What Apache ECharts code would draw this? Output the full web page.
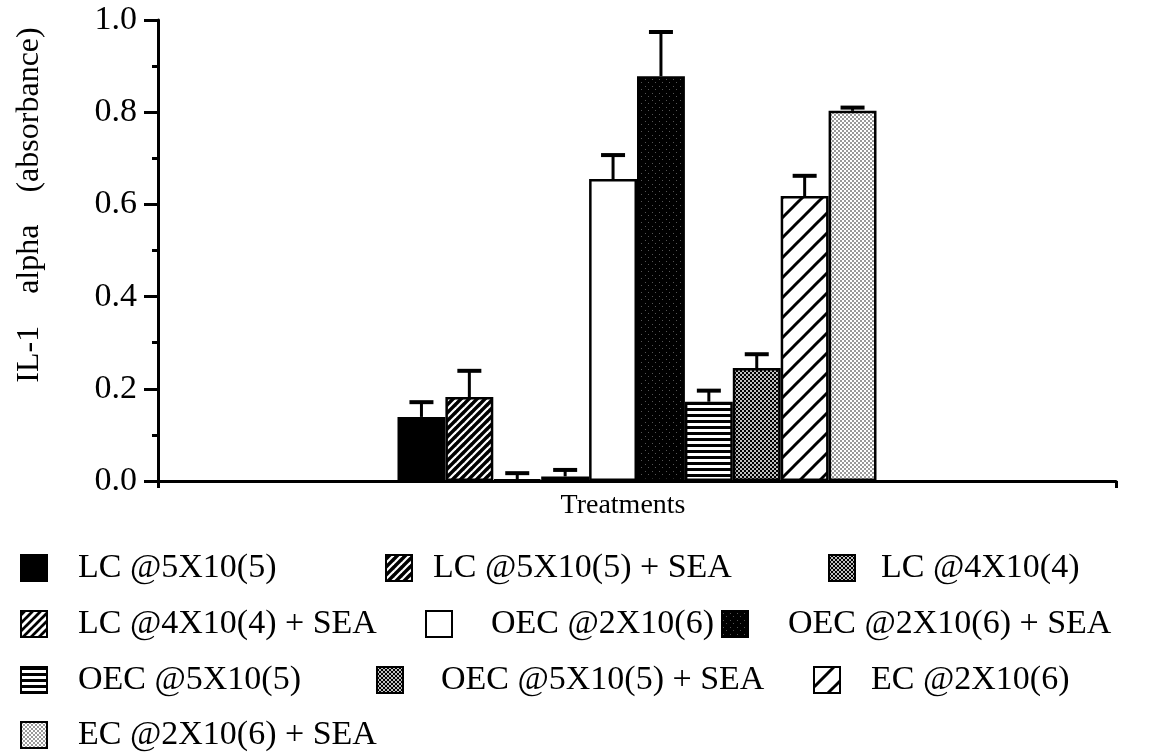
<!DOCTYPE html>
<html>
<head>
<meta charset="utf-8">
<script src="https://cdn.jsdelivr.net/npm/echarts@6/dist/echarts.min.js"></script>
<style>
  html, body { margin: 0; padding: 0; background: #fff; }
  #chart { width: 1155px; height: 753px; }
</style>
</head>
<body>
<div id="chart"></div>
<script>
// ---- data ----
var seriesNames = [
  'LC @5X10(5)', 'LC @5X10(5) + SEA', 'LC @4X10(4)', 'LC @4X10(4) + SEA',
  'OEC @2X10(6)', 'OEC @2X10(6) + SEA', 'OEC @5X10(5)', 'OEC @5X10(5) + SEA',
  'EC @2X10(6)', 'EC @2X10(6) + SEA'
];
var meanValues = [0.139, 0.182, 0.003, 0.010, 0.655, 0.878, 0.172, 0.245, 0.618, 0.803];
var errorValues = [0.032, 0.057, 0.014, 0.014, 0.052, 0.096, 0.024, 0.030, 0.044, 0.007];
var categories = ['Treatments'];
var yTicks = [0.0, 0.2, 0.4, 0.6, 0.8, 1.0];

// ---- patterns ----
function tile(w, h, draw) {
  var c = document.createElement('canvas');
  c.width = w; c.height = h;
  var ctx = c.getContext('2d');
  draw(ctx, w, h);
  return { image: c, repeat: 'repeat' };
}
function hatch(size, bg, fg, lw) {
  return tile(size, size, function (ctx, w, h) {
    ctx.fillStyle = bg; ctx.fillRect(0, 0, w, h);
    ctx.strokeStyle = fg; ctx.lineWidth = lw;
    [-w, 0, w].forEach(function (o) {
      ctx.beginPath();
      ctx.moveTo(o - 1, h + 1);
      ctx.lineTo(o + w + 1, -1);
      ctx.stroke();
    });
  });
}
function dots(size, bg, fg, r) {
  return tile(size, size, function (ctx, w, h) {
    ctx.fillStyle = bg; ctx.fillRect(0, 0, w, h);
    ctx.fillStyle = fg;
    [[w / 4, h / 4], [3 * w / 4, 3 * h / 4]].forEach(function (p) {
      ctx.beginPath(); ctx.arc(p[0], p[1], r, 0, Math.PI * 2); ctx.fill();
    });
  });
}
var stripes = tile(6, 6, function (ctx, w, h) {
  ctx.fillStyle = '#fff'; ctx.fillRect(0, 0, w, h);
  ctx.fillStyle = '#000'; ctx.fillRect(0, 0, w, 3);
});
var speckle = tile(7, 7, function (ctx, w, h) {
  ctx.fillStyle = '#000'; ctx.fillRect(0, 0, w, h);
  ctx.fillStyle = '#555'; ctx.fillRect(1, 2, 1, 1); ctx.fillRect(4, 5, 1, 1);
});
var fills = [
  '#000',
  hatch(8, '#000', '#fff', 2.2),
  dots(4, '#000', '#fff', 1.0),
  hatch(8, '#000', '#fff', 3),
  '#fff',
  speckle,
  stripes,
  dots(4, '#000', '#fff', 1.0),
  hatch(20, '#fff', '#000', 3),
  dots(4, '#fff', '#000', 0.75)
];

// legend layout: [iconLeft, rowCenterY, textPad]
var legendLayout = [
  [20, 568, 26], [385, 568, 16], [828, 568, 21],
  [20, 624, 26], [425, 624, 34], [721, 624, 35],
  [20, 680, 26], [376, 680, 33], [813, 680, 26],
  [20, 735, 26]
];

var FONT = "'Liberation Serif', 'Times New Roman', serif";
var N = seriesNames.length;
var CAT_GAP = 0.5;

var series = seriesNames.map(function (name, i) {
  return {
    name: name,
    type: 'bar',
    data: [meanValues[i]],
    barGap: '0%',
    barCategoryGap: (CAT_GAP * 100) + '%',
    itemStyle: { color: fills[i], borderColor: '#000', borderWidth: 2.5 },
    emphasis: { disabled: true },
    z: 2
  };
});

series.push({
  type: 'custom',
  name: 'error',
  z: 3,
  data: meanValues.map(function (v, i) { return [0, v, errorValues[i], i]; }),
  encode: { x: 0, y: 1 },
  renderItem: function (params, api) {
    var i = api.value(3), v = api.value(1), e = api.value(2);
    var base = api.coord([0, v]);
    var top = api.coord([0, v + e]);
    var band = api.size([1, 0])[0];
    var group = band * (1 - CAT_GAP);
    var bw = group / N;
    var cx = base[0] - group / 2 + (i + 0.5) * bw;
    return {
      type: 'group',
      children: [
        { type: 'line', shape: { x1: cx, y1: base[1], x2: cx, y2: top[1] },
          style: { stroke: '#000', lineWidth: 3 } },
        { type: 'line', shape: { x1: cx - 12, y1: top[1], x2: cx + 12, y2: top[1] },
          style: { stroke: '#000', lineWidth: 4 } }
      ]
    };
  }
});

var legends = seriesNames.map(function (name, i) {
  var L = legendLayout[i];
  return {
    data: [name],
    left: L[0],
    top: L[1] - 17,
    padding: 0,
    icon: 'rect',
    itemWidth: 26,
    itemHeight: 26,
    selectedMode: false,
    textStyle: { fontFamily: FONT, fontSize: 34, color: '#000', padding: [0, 0, 0, L[2]] }
  };
});

var chart = echarts.init(document.getElementById('chart'), null, { renderer: 'canvas' });
chart.setOption({
  backgroundColor: '#fff',
  animation: false,
  grid: { left: 158, right: 39, top: 20, bottom: 272, containLabel: false },
  legend: legends,
  xAxis: {
    type: 'category',
    data: categories,
    axisLine: { lineStyle: { color: '#000', width: 3 } },
    axisTick: { show: true, length: 7, lineStyle: { color: '#000', width: 3 } },
    axisLabel: { show: false },
    splitLine: { show: false }
  },
  yAxis: {
    type: 'value',
    min: yTicks[0],
    max: yTicks[yTicks.length - 1],
    interval: 0.2,
    axisLine: { show: true, lineStyle: { color: '#000', width: 3 } },
    axisTick: { show: true, length: 14, lineStyle: { color: '#000', width: 3 } },
    minorTick: { show: true, splitNumber: 2, length: 6, lineStyle: { color: '#000', width: 3 } },
    splitLine: { show: false },
    axisLabel: {
      margin: 21,
      fontFamily: FONT, fontSize: 34, color: '#000',
      formatter: function (v) { return v.toFixed(1); }
    }
  },
  graphic: [
    {
      type: 'text',
      x: 30, y: 205,
      rotation: Math.PI / 2,
      style: {
        text: 'IL-1    alpha    (absorbance)',
        fontFamily: FONT, fontSize: 32, fill: '#000',
        align: 'center', verticalAlign: 'middle'
      }
    },
    {
      type: 'text',
      x: 623, y: 506,
      style: {
        text: 'Treatments',
        fontFamily: FONT, fontSize: 28, fill: '#000',
        align: 'center', verticalAlign: 'middle'
      }
    }
  ],
  series: series
});
</script>
</body>
</html>
